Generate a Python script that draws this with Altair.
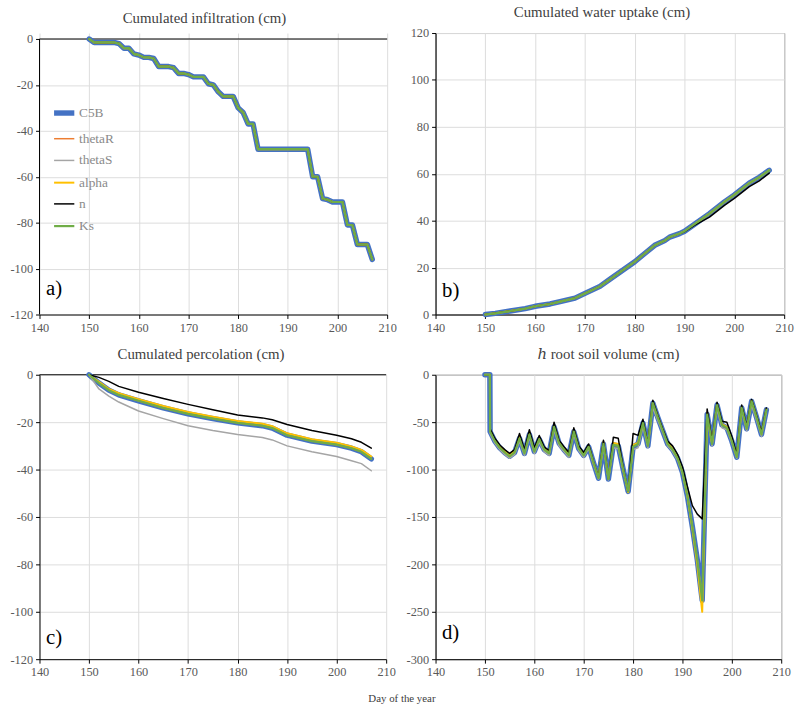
import altair as alt
import pandas as pd

SERIES = ["C5B", "thetaR", "thetaS", "alpha", "n", "Ks"]
COLORS = ["#4472C4", "#ED7D31", "#A5A5A5", "#FFC000", "#000000", "#70AD47"]
WIDTHS = [5.5, 1.5, 1.5, 2, 1.5, 2.2]
X_TICKS = [140, 150, 160, 170, 180, 190, 200, 210]

# ---------------- a) Cumulated infiltration ----------------
a_days = list(range(150, 208))
a_C5B = [0, -1.5, -1.5, -1.5, -1.5, -1.5, -2, -4, -4, -6.5,
         -7, -8, -8, -8.5, -12, -12, -12, -12.5, -15, -15,
         -15.5, -16.5, -16.5, -16.5, -19.5, -20, -23, -25, -25, -25,
         -30, -32, -37, -37, -48, -48, -48, -48, -48, -48,
         -48, -48, -48, -48, -48, -60, -60, -69.5, -70, -71,
         -71, -71, -81, -81, -89.5, -89.5, -89.5, -96]
a_thetaR = a_C5B
a_thetaS = a_C5B
a_alpha = a_C5B
a_n = a_C5B
a_Ks = a_C5B

# ---------------- b) Cumulated water uptake ----------------
b_days = [150, 152, 155, 158, 160, 163, 165, 168, 170, 173, 175, 177, 180,
          182, 184, 186, 187, 189, 190, 192, 195, 198, 200, 203, 205, 207]
b_C5B = [0, 0.5, 1.5, 2.5, 3.5, 4.5, 5.5, 7, 9, 12, 15, 18, 22.5,
         26, 29.5, 31.5, 33, 34.5, 35.5, 38.5, 43, 48, 51, 56, 58.5, 61.5]
b_n = [0, 0.5, 1.5, 2.5, 3.5, 4.5, 5.5, 7, 9, 12, 15, 18, 22.5,
       26, 29.5, 31.5, 33, 34.5, 35.3, 38, 41.5, 46.5, 49.5, 54.5, 57, 60.3]
b_thetaR = b_C5B
b_thetaS = b_C5B
b_alpha = b_C5B
b_Ks = b_C5B

# ---------------- c) Cumulated percolation ----------------
c_days = [150, 152, 154, 156, 160, 165, 170, 175, 180, 185, 187, 190, 195,
          200, 203, 205, 207]
c_C5B = [0, -3.5, -6.5, -8.5, -11, -14, -16.5, -18.5, -20.3, -21.5, -22.5,
         -25.5, -28, -29.5, -31, -32.5, -35.5]
c_alpha = [0, -3, -6, -7.8, -10.3, -13.2, -15.7, -17.7, -19.5, -20.7, -21.7,
           -24.7, -27.2, -28.7, -30.2, -31.7, -34.5]
c_n = [0, -1.1, -2.8, -4.9, -7.4, -10, -12.5, -14.8, -17, -18.2, -19,
       -21, -23.5, -25.5, -27, -28.5, -31]
c_thetaS = [0, -6, -9, -11.5, -15.3, -18.5, -21.5, -23.5, -25.2, -26.5, -27.5,
            -30, -32.5, -34.5, -36.3, -37.5, -40.5]
c_thetaR = c_C5B
c_Ks = c_C5B

# ---------------- d) h root soil volume ----------------
d_days = [150, 151, 151.05] + list(range(152, 208))
d_C5B = [0, 0, -60, -70, -77, -82, -86, -82, -67, -83, -63, -81, -68, -79, -83,
         -55, -72, -79, -85, -60, -78, -85, -76, -93, -109, -73, -110, -74, -75,
         -100, -123, -76, -73, -51, -75, -30, -45, -59, -73, -79, -88, -103,
         -128, -160, -195, -238, -42, -73, -32, -53, -56, -70, -87, -35, -57,
         -28, -45, -63, -37]
d_alpha = [0, 0, -59, -69, -76, -81, -85, -81, -65, -82, -61, -80, -67, -78, -82,
           -53, -71, -78, -84, -58, -77, -84, -75, -93, -108, -71, -109, -72, -73,
           -100, -124, -74, -72, -50, -74, -29, -44, -58, -72, -78, -87, -102,
           -127, -162, -200, -250, -40, -72, -31, -52, -55, -69, -86, -34, -56,
           -27, -44, -62, -36]
d_n = [0, 0, -57, -67, -74, -79, -83, -79, -62, -79, -58, -77, -64, -76, -80,
       -50, -69, -76, -82, -56, -75, -82, -73, -92, -108, -69, -110, -66, -67,
       -98, -123, -62, -64, -47, -73, -27, -43, -57, -70, -75, -84, -97,
       -118, -138, -147, -152, -36, -70, -29, -49, -50, -65, -84, -32, -54,
       -26, -43, -60, -35]
d_thetaS = [0, 0, -62, -72, -79, -84, -88, -84, -70, -85, -66, -83, -71, -81, -85,
            -58, -75, -81, -87, -63, -80, -87, -78, -95, -110, -76, -111, -77, -78,
            -101, -122, -79, -77, -55, -77, -35, -48, -61, -75, -81, -90, -105,
            -130, -162, -195, -236, -46, -75, -36, -56, -58, -72, -88, -38, -59,
            -32, -48, -65, -40]
d_thetaR = d_C5B
d_Ks = d_C5B

SERIF = "Liberation Serif, DejaVu Serif, serif"


def long_df(days, values):
    rows = []
    for s in SERIES:
        for d, v in zip(days, values[s]):
            rows.append({"day": d, "value": v, "series": s})
    return pd.DataFrame(rows)


def axis(values, expr=None, domain=True):
    kw = dict(values=values, title=None, labelFont=SERIF, labelFontSize=12.5,
              labelColor="#595959", domainColor="#000000", tickColor="#000000",
              tickSize=4, gridColor="#dcdcdc", gridWidth=1, labelPadding=3,
              labelFlush=False, domain=domain)
    if expr:
        kw["labelExpr"] = expr
    return alt.Axis(**kw)


def panel(df, title, title_dx, ydom, yticks, width, height, label, label_y,
          legend=False, zero_rule=False, frame=None, title_offset=8,
          y_axis_rule=None):
    x = alt.X("day:Q", scale=alt.Scale(domain=[140, 210], nice=False, zero=False),
              axis=axis(X_TICKS))
    y = alt.Y("value:Q", scale=alt.Scale(domain=ydom, nice=False, zero=False),
              axis=axis(yticks, "'' + datum.value", domain=y_axis_rule is None))
    if legend:
        leg = alt.Legend(title=None, orient="none", legendX=12, legendY=68,
                         symbolType="stroke", symbolSize=420,
                         labelFont=SERIF, labelFontSize=13.5,
                         labelColor="#8a8a8a", rowPadding=4, labelOffset=2)
    else:
        leg = None
    color = alt.Color("series:N", scale=alt.Scale(domain=SERIES, range=COLORS),
                      legend=leg)
    sw = alt.StrokeWidth("series:N",
                         scale=alt.Scale(type="ordinal", domain=SERIES, range=WIDTHS),
                         legend=leg)
    layers = []
    if zero_rule:
        layers.append(alt.Chart(pd.DataFrame({"value": [0]})).mark_rule(
            color="#000000", strokeWidth=1).encode(y=y))
    if y_axis_rule is not None:
        layers.append(alt.Chart(pd.DataFrame(
            {"day": [140], "value": [y_axis_rule[0]], "value2": [y_axis_rule[1]]}))
            .mark_rule(color="#000000", strokeWidth=1)
            .encode(x=x, y=y, y2="value2:Q"))
    for s in SERIES:
        layers.append(
            alt.Chart(df).transform_filter(alt.datum.series == s)
            .mark_line(strokeCap="round", strokeJoin="round")
            .encode(x=x, y=y, color=color, strokeWidth=sw)
        )
    layers.append(
        alt.Chart(pd.DataFrame({"t": [label], "day": [141.3], "value": [label_y]}))
        .mark_text(font=SERIF, fontSize=21, align="left", baseline="middle",
                   color="#000000")
        .encode(x=x, y=y, text="t:N")
    )
    ch = alt.layer(*layers).properties(
        width=width, height=height,
        title=alt.TitleParams(title, font=SERIF, fontSize=15, fontWeight="normal",
                              color="#404040", offset=title_offset, dx=title_dx),
    )
    if frame:
        ch = ch.properties(view=alt.ViewBackground(stroke=frame, strokeWidth=1))
    else:
        ch = ch.properties(view=alt.ViewBackground(stroke=None))
    return ch


da = long_df(a_days, {"C5B": a_C5B, "thetaR": a_thetaR, "thetaS": a_thetaS,
                      "alpha": a_alpha, "n": a_n, "Ks": a_Ks})
db = long_df(b_days, {"C5B": b_C5B, "thetaR": b_thetaR, "thetaS": b_thetaS,
                      "alpha": b_alpha, "n": b_n, "Ks": b_Ks})
dc = long_df(c_days, {"C5B": c_C5B, "thetaR": c_thetaR, "thetaS": c_thetaS,
                      "alpha": c_alpha, "n": c_n, "Ks": c_Ks})
dd = long_df(d_days, {"C5B": d_C5B, "thetaR": d_thetaR, "thetaS": d_thetaS,
                      "alpha": d_alpha, "n": d_n, "Ks": d_Ks})

# panel a: the plot box reaches slightly above 0, as in the original layout
pa = panel(da, "Cumulated  infiltration  (cm)", -9, [-120, 2.6],
           [0, -20, -40, -60, -80, -100, -120], 352, 285, "a)", -109,
           legend=True, zero_rule=True, y_axis_rule=(-120, 0), title_offset=7)
pb = panel(db, "Cumulated  water uptake (cm)", -8, [0, 120],
           [0, 20, 40, 60, 80, 100, 120], 353, 285, "b)", 10, frame="#595959",
           title_offset=7)
pc = panel(dc, "Cumulated  percolation  (cm)", -12, [-120, 0],
           [0, -20, -40, -60, -80, -100, -120], 351, 288, "c)", -111,
           zero_rule=True, title_offset=7)
pd_ = panel(dd, "ℎ root soil volume (cm)", 0, [-300, 0],
            [0, -50, -100, -150, -200, -250, -300], 350, 288, "d)", -272,
            frame="#595959", title_offset=7)

chart = alt.concat(pa, pb, pc, pd_, columns=2,
                   spacing=alt.RowColnumber(row=12, column=8)).resolve_scale(
    color="independent", strokeWidth="independent", x="independent", y="independent"
).properties(
    title=alt.TitleParams("Day of the year", orient="bottom", anchor="middle",
                          font=SERIF, fontSize=11, fontWeight="normal",
                          color="#404040", offset=14),
    padding={"left": 10, "top": 0, "right": 5, "bottom": 2},
).configure_view(stroke=None)

chart.save("out.html", embed_options={"renderer": "svg", "actions": False})
